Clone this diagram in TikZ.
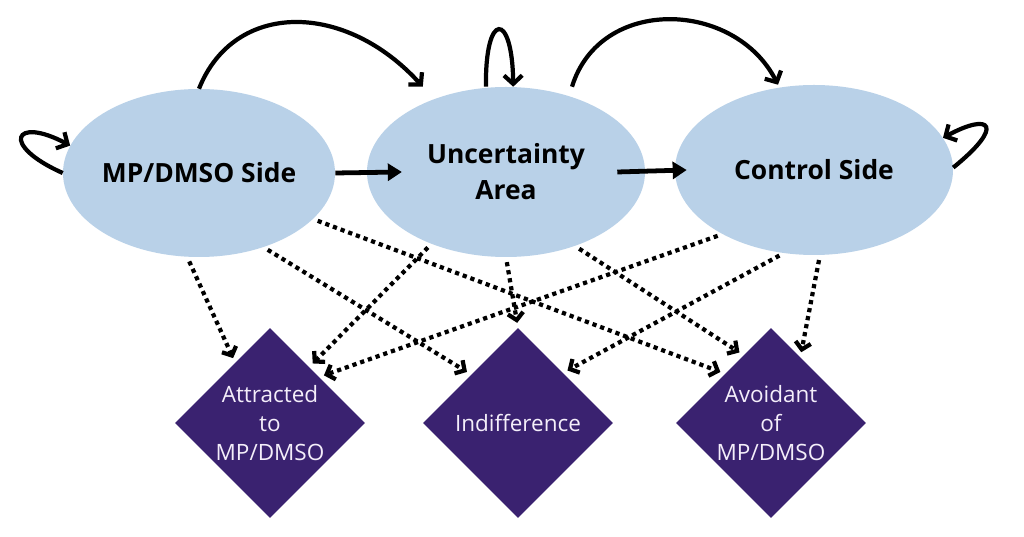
\documentclass[tikz,border=0pt]{standalone}
\usepackage{fontspec}
\setmainfont{Open Sans}
\usetikzlibrary{arrows.meta,shapes.geometric}

\definecolor{azulclaro}{HTML}{B9D1E8}
\definecolor{roxo}{HTML}{3A2270}
\definecolor{lilas}{HTML}{F4EEFA}

\tikzset{
  estado/.style={ellipse, fill=azulclaro, minimum width=6.95cm, minimum height=4.25cm,
    align=center, font=\fontsize{18.8}{25.6}\selectfont\bfseries},
  perfil/.style={diamond, fill=roxo, minimum width=4.75cm, minimum height=4.75cm,
    inner sep=0pt, align=center, text=lilas, font=\fontsize{16}{20.6}\selectfont},
  seta/.style={line width=3pt, -{Straight Barb[length=6pt,width=13pt]}},
  fluxo/.style={line width=3.4pt, -{Triangle[length=10pt,width=12pt]}},
  pont/.style={line width=3pt, dash pattern=on 3pt off 2.8pt,
    -{Straight Barb[length=5pt,width=11pt]}, shorten <=3.5pt, shorten >=3.5pt}
}

\begin{document}
\begin{tikzpicture}
    \useasboundingbox[fill=white] (0,0) rectangle (25.6,13.425);

    % Estados
    \node[estado, minimum width=6.8cm, minimum height=4.2cm, inner xsep=-0.15cm] (mp) at (4.975,9.1) {MP/DMSO Side};
    \node[estado] (unc) at (12.65,9.125) {Uncertainty\\Area};
    \node[estado] (ctrl) at (20.35,9.175) {Control Side};

    % Perfis
    \node[perfil] (atr) at (6.75,2.85) {Attracted\\to\\MP/DMSO};
    \node[perfil] (ind) at (12.95,2.85) {Indifference};
    \node[perfil] (avo) at (19.275,2.85) {Avoidant\\of\\MP/DMSO};

    % Transicoes
    \draw[seta] (mp.north) .. controls +(0.875,2.2) and +(-1.95,2.15) .. ([xshift=-2.08cm]unc.north);
    \draw[seta] ([xshift=-0.5cm]unc.north) .. controls +(-0.03,1.9) and +(-0.02,1.9) .. ([xshift=0.18cm]unc.north);
    \draw[seta] ([xshift=1.65cm]unc.north) .. controls +(0.7,2.28) and +(-1.08,2.12) .. ([xshift=-0.9cm]ctrl.north);
    \draw[seta] (mp.west) .. controls +(-1.58,0.7) and +(-1.4,0.75) .. (mp.168);
    \draw[seta] (ctrl.1) .. controls +(1.3,1.05) and +(1.2,0.65) .. (ctrl.14);

    \draw[fluxo] (mp.east) -- ([xshift=0.88cm]unc.west);
    \draw[fluxo] ([xshift=-0.7cm]unc.east) -- ([xshift=0.3cm]ctrl.west);

    % Resultados
    \foreach \de/\ade/\para/\apara in {mp/262/atr/120, mp/311/ind/134, mp/338/avo/133,
        unc/224/atr/55, unc/270/ind/90, unc/313/avo/112,
        ctrl/215/atr/43, ctrl/250/ind/48, ctrl/274/avo/66}
        \draw[pont] (\de.\ade) -- (\para.\apara);
\end{tikzpicture}
\end{document}
